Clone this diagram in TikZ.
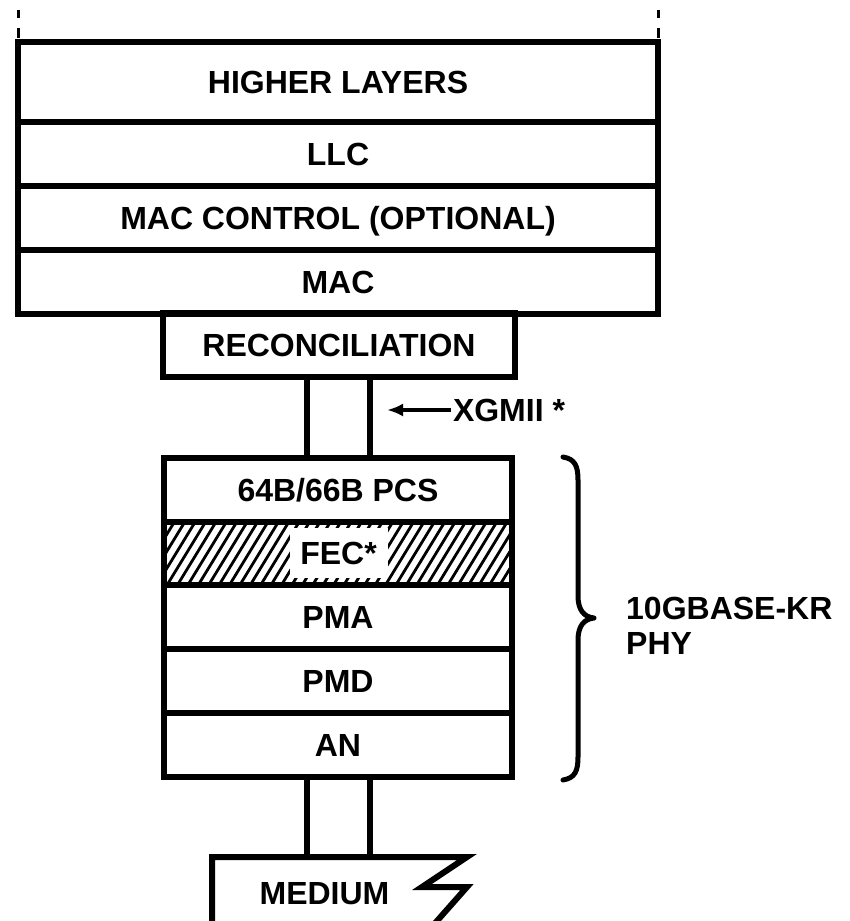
\documentclass[tikz,border=0pt]{standalone}
\usepackage{fontspec}
\setmainfont{Liberation Sans}
\usetikzlibrary{arrows.meta}
\newcommand{\diaglbl}{\fontsize{32pt}{35pt}\selectfont\bfseries}
\begin{document}
\begin{tikzpicture}[x=1pt,y=-1pt,
  thick line/.style={line width=6pt},
  layer/.style={draw, line width=6pt, rectangle, outer sep=0pt, inner sep=0pt,
    font=\diaglbl, text height=23pt, text depth=0pt},
  upper/.style={layer, minimum width=640pt, minimum height=64pt},
  lower/.style={layer, minimum width=348pt, minimum height=64pt},
  lbl/.style={font=\diaglbl, inner sep=0pt, outer sep=0pt, text height=23pt, text depth=0pt},
  topdash/.style={line width=3pt},
  hatchline/.style={line width=2.8pt},
  bracestyle/.style={line width=5pt, line cap=round, line join=round}]
\useasboundingbox (0,0) rectangle (850,921);
\clip (0,0) rectangle (850,921);

% hatch of FEC row (drawn first)
\begin{scope}
  \clip (164,522) rectangle (512,585);
  \foreach \i in {-8,...,40} {
    \draw[hatchline] (164+\i*10.4, 590) -- ++(44,-72);
  }
\end{scope}

% upper stack
\node[upper, minimum height=80pt] (hl) at (338,82) {HIGHER LAYERS};
\node[upper] (llc) at (338,154) {LLC};
\node[upper] (macc) at (338,218) {MAC CONTROL (OPTIONAL)};
\node[upper] (mac) at (338,282) {MAC};
\node[layer, minimum width=352pt, minimum height=64pt] (rec) at (339,345) {RECONCILIATION};

% lower stack
\node[lower] (pcs) at (338,490) {64B/66B PCS};
\node[lower, minimum height=63pt] (fec) at (338,553.5) {};
\node[lbl, fill=white, minimum width=98pt, minimum height=50pt] (fect) at (338.5,553) {FEC*};
\node[lower] (pma) at (338,617) {PMA};
\node[lower] (pmd) at (338,681) {PMD};
\node[lower] (an) at (338,745) {AN};

% dashed extensions on top
\foreach \c in {north west, north east} {
  \draw[topdash] ([yshift=4pt]hl.\c) -- ([yshift=14pt]hl.\c);
  \draw[topdash] ([yshift=24pt]hl.\c) -- ([yshift=32pt]hl.\c);
}

% connectors reconciliation -> PCS
\draw[thick line] ([xshift=-32pt]rec.south) -- ([xshift=-32pt]rec.south |- pcs.north);
\draw[thick line] ([xshift=31pt]rec.south) -- ([xshift=31pt]rec.south |- pcs.north);

% XGMII label and arrow
\node[lbl, anchor=west] (xg) at (453,410) {XGMII *};
\coordinate (xgtip) at (387,410);
\draw[line width=3.5pt, -{Latex[length=16pt,width=13pt]}] ([xshift=-2pt]xg.west) -- (xgtip);

% medium
\coordinate (mtl) at (212,857);
\draw[thick line, line join=miter] (212,930) -- (mtl) -- (467,857) -- (422,887) -- (467,887) -- (429,930);
\node[lbl] (med) at (324.5,893) {MEDIUM};
\draw[thick line] ([xshift=-31pt]an.south) -- ([xshift=-31pt]an.south |- mtl);
\draw[thick line] ([xshift=32pt]an.south) -- ([xshift=32pt]an.south |- mtl);

% brace
\coordinate (btop) at (563,457);
\coordinate (btip) at (594,618);
\coordinate (bbot) at (563,780);
\draw[bracestyle] (btop) .. controls (575,459) and (578,466) .. (578,480)
  -- (578,596) .. controls (578,610) and (584,617) .. (btip)
  .. controls (584,619) and (578,626) .. (578,640)
  -- (578,757) .. controls (578,771) and (575,778) .. (bbot);

% PHY label
\node[font=\diaglbl, align=left, anchor=west, inner sep=0pt] (phy) at (626,626) {10GBASE-KR\\PHY};
\end{tikzpicture}
\end{document}
